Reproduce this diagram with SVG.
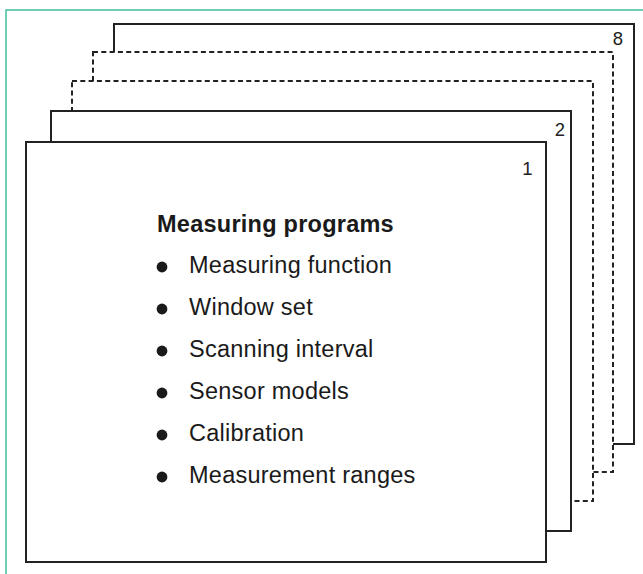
<svg xmlns="http://www.w3.org/2000/svg" width="643" height="574" viewBox="0 0 643 574">
<style>
.frame{fill:none;stroke:#3dbf9f;stroke-width:1.5}
.sheet{fill:#fff;stroke:#222;stroke-width:2}
.dash{stroke-dasharray:5 3.3}
.num{font-family:"Liberation Sans",Arial,Helvetica,sans-serif;font-size:18.5px;fill:#222;text-anchor:end}
.title{font-family:"Liberation Sans",Arial,Helvetica,sans-serif;font-size:23.5px;font-weight:bold;fill:#1a1a1a;letter-spacing:0.25px}
.item{font-family:"Liberation Sans",Arial,Helvetica,sans-serif;font-size:23.5px;fill:#1a1a1a;letter-spacing:0.25px}
.bullet{fill:#1a1a1a}
</style>
<rect x="0" y="0" width="643" height="574" fill="#fff"/>
<g id="frame">
<polyline class="frame" points="6,574 6,10 643,10"/>
</g>
<g id="sheet8">
<rect class="sheet" x="114" y="24" width="520" height="420"/>
<text class="num" x="623" y="45">8</text>
</g>
<g id="sheet7">
<rect class="sheet dash" x="93" y="52" width="520" height="420"/>
</g>
<g id="sheet3">
<rect class="sheet dash" x="72" y="81" width="521" height="420"/>
</g>
<g id="sheet2">
<rect class="sheet" x="51" y="111" width="520" height="420"/>
<text class="num" x="565" y="135.5">2</text>
</g>
<g id="sheet1">
<rect class="sheet" x="26" y="142" width="520" height="420"/>
<text class="num" x="532.5" y="175">1</text>
<text class="title" x="157" y="232">Measuring programs</text>
<circle class="bullet" cx="162" cy="267" r="5.4"/>
<text class="item" x="189" y="273">Measuring function</text>
<circle class="bullet" cx="162" cy="309" r="5.4"/>
<text class="item" x="189" y="315">Window set</text>
<circle class="bullet" cx="162" cy="351" r="5.4"/>
<text class="item" x="189" y="357">Scanning interval</text>
<circle class="bullet" cx="162" cy="393" r="5.4"/>
<text class="item" x="189" y="399">Sensor models</text>
<circle class="bullet" cx="162" cy="435" r="5.4"/>
<text class="item" x="189" y="441">Calibration</text>
<circle class="bullet" cx="162" cy="477" r="5.4"/>
<text class="item" x="189" y="483">Measurement ranges</text>
</g>
</svg>
